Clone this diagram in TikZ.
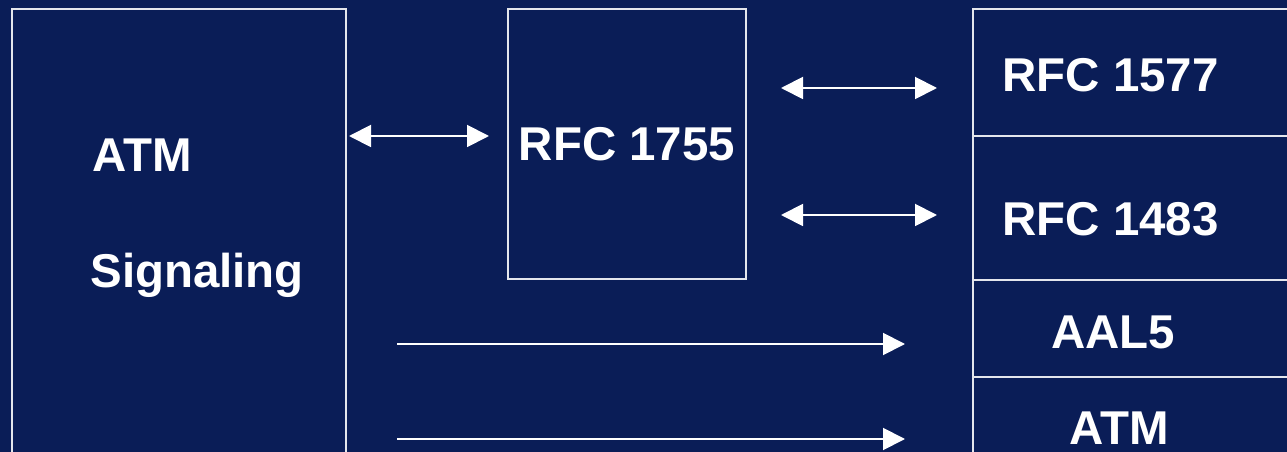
\documentclass[tikz,border=0pt]{standalone}
\usepackage{fontspec}
\setmainfont{Liberation Sans}
\definecolor{slidenavy}{RGB}{10, 29, 87}
\definecolor{edgegray}{RGB}{228, 230, 236}
\usetikzlibrary{arrows.meta, positioning}

\begin{document}
\begin{tikzpicture}[
  layerbox/.style={draw=edgegray, line width=1.1pt, inner sep=0pt, outer sep=0pt, anchor=north west},
  label/.style={text=white, inner sep=0pt, font=\bfseries\fontsize{27}{32}\selectfont},
  twoway/.style={draw=white, line width=1.1pt, {Triangle[length=0.44cm, width=0.44cm]}-{Triangle[length=0.44cm, width=0.44cm]}},
  oneway/.style={draw=white, line width=1.1pt, -{Triangle[length=0.44cm, width=0.44cm]}}
]
  % slide background, cut at the page edge
  \fill[slidenavy] (0,0) rectangle (25.74,-9.04);
  \useasboundingbox (0,0) rectangle (25.74,-9.04);
  \clip (0,0) rectangle (25.74,-9.04);

  % left block
  \node[layerbox, minimum width=6.68cm, minimum height=9.4cm] (sig) at (0.24,-0.18) {};
  \node[label, anchor=base west] (sigatm) at (1.84,-3.44) {ATM};
  \node[label, anchor=base west] (signame) at (1.80,-5.76) {Signaling};

  % middle block
  \node[layerbox, minimum width=4.76cm, minimum height=5.4cm, label] (mid) at (10.16,-0.18) {RFC 1755};

  % protocol stack on the right
  \node[layerbox, minimum width=6.74cm, minimum height=2.54cm] (r1) at (19.46,-0.18) {};
  \node[layerbox, minimum width=6.74cm, minimum height=2.88cm] (r2) at (r1.south west) {};
  \node[layerbox, minimum width=6.74cm, minimum height=1.94cm] (r3) at (r2.south west) {};
  \node[layerbox, minimum width=6.74cm, minimum height=2.2cm] (r4) at (r3.south west) {};
  \node[label, anchor=base west] (rfca) at (20.04,-1.84) {RFC 1577};
  \node[label, anchor=base west] (rfcb) at (20.04,-4.72) {RFC 1483};
  \node[label, anchor=base] (aal) at (22.26,-6.96) {AAL5};
  \node[label, anchor=base] (atm) at (22.38,-8.88) {ATM};

  % arrows
  \draw[twoway] ([shift={(0.06,-2.54)}]sig.north east) -- ([shift={(-0.38,-2.54)}]mid.north west);
  \draw[twoway] ([shift={(0.70,-1.58)}]mid.north east) -- ([shift={(-0.72,-1.58)}]r1.north west);
  \draw[twoway] ([shift={(0.70,-4.12)}]mid.north east) -- ([shift={(-0.72,-1.58)}]r2.north west);
  \draw[oneway] ([shift={(1.02,-6.70)}]sig.north east) -- ([shift={(-1.36,-1.28)}]r3.north west);
  \draw[oneway] ([shift={(1.02,-8.60)}]sig.north east) -- ([shift={(-1.36,-1.24)}]r4.north west);
\end{tikzpicture}
\end{document}
